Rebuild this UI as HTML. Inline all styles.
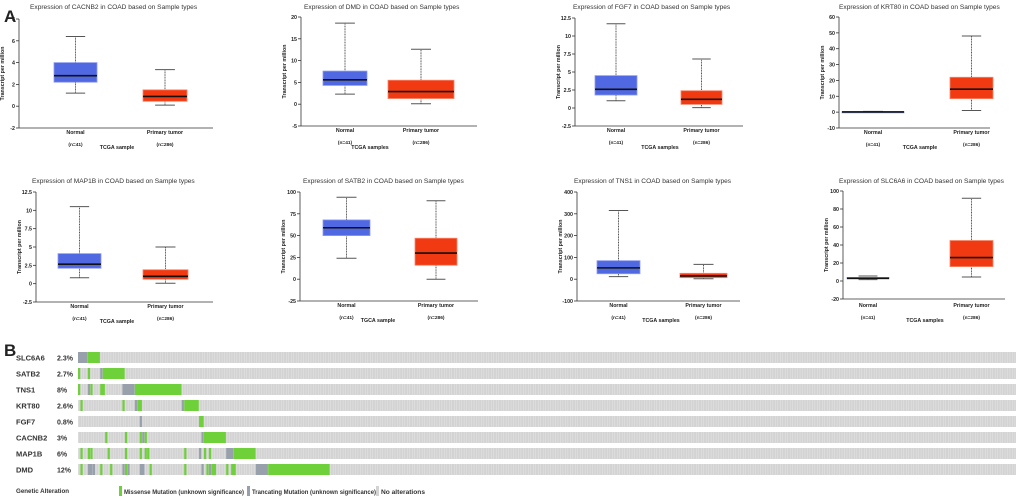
<!DOCTYPE html>
<html><head><meta charset="utf-8"><style>
body{margin:0;background:#fff;width:1020px;height:501px;overflow:hidden;font-family:"Liberation Sans",sans-serif}
svg{position:absolute;left:0;top:0}
</style></head><body>
<svg id="fig" width="1020" height="501" viewBox="0 0 1020 501"></svg>
<script>
// ---- chart data ----
const genes = ["CACNB2","DMD","FGF7","KRT80","MAP1B","SATB2","TNS1","SLC6A6"];
// [lower whisker, q1, median, q3, upper whisker]
const normalCACNB2 = [1.2,2.2,2.8,4.0,6.4];
const tumorCACNB2  = [0.1,0.45,0.9,1.5,3.35];
const normalDMD = [2.3,4.3,5.6,7.6,18.6];
const tumorDMD  = [0.1,1.3,2.9,5.5,12.6];
const normalFGF7 = [1.0,1.8,2.6,4.5,11.7];
const tumorFGF7  = [0.05,0.5,1.2,2.4,6.8];
const normalKRT80 = [0,0,0.1,0.3,0.5];
const tumorKRT80  = [1,8.5,14.5,22,48];
const normalMAP1B = [0.8,2.1,2.65,4.1,10.5];
const tumorMAP1B  = [0.05,0.6,1.0,1.9,5.0];
const normalSATB2 = [24,50,59,68,94];
const tumorSATB2  = [0,16,30,47,90];
const normalTNS1 = [12,25,52,85,315];
const tumorTNS1  = [2,7,15,27,68];
const normalSLC6A6 = [1.5,2.5,3,4,5.5];
const tumorSLC6A6  = [4.5,16,26,45,92];
const ticksCACNB2 = [-2,0,2,4,6,8];
const ticksDMD = [-5,0,5,10,15,20];
const ticksFGF7 = [-2.5,0,2.5,5,7.5,10,12.5];
const ticksKRT80 = [-10,0,10,20,30,40,50,60];
const ticksMAP1B = [-2.5,0,2.5,5,7.5,10,12.5];
const ticksSATB2 = [-25,0,25,50,75,100];
const ticksTNS1 = [-100,0,100,200,300,400];
const ticksSLC6A6 = [-20,0,20,40,60,80,100];
const xTitles = ["TCGA sample","TCGA samples","TCGA samples","TCGA sample","TCGA sample","TGCA sample","TCGA samples","TCGA samples"];
// oncoprint
const oncoGenes = ["SLC6A6","SATB2","TNS1","KRT80","FGF7","CACNB2","MAP1B","DMD"];
const oncoPct = ["2.3%","2.7%","8%","2.6%","0.8%","3%","6%","12%"];
// alterations as [sample start index, sample count, type] (m=missense,t=truncating)
const altSLC6A6 = [[0,4,"t"],[4,5,"m"]];
const altSATB2 = [[0,1,"m"],[4,1,"m"],[9,1,"t"],[10,9,"m"]];
const altTNS1 = [[0,1,"m"],[4,1,"t"],[5,1,"m"],[9,2,"m"],[18,5,"t"],[23,19,"m"]];
const altKRT80 = [[1,1,"m"],[18,1,"m"],[23,1,"t"],[24,2,"m"],[42,1,"t"],[43,6,"m"]];
const altFGF7 = [[25,1,"t"],[49,2,"m"]];
const altCACNB2 = [[11,1,"m"],[19,1,"m"],[25,1,"m"],[26,1,"t"],[27,1,"m"],[50,1,"t"],[51,9,"m"]];
const altMAP1B = [[1,1,"m"],[4,1,"m"],[5,1,"m"],[12,1,"m"],[19,1,"m"],[25,1,"m"],[27,1,"m"],[28,1,"m"],[43,1,"m"],[49,1,"t"],[51,1,"m"],[53,1,"m"],[60,3,"t"],[63,9,"m"]];
const altDMD = [[1,1,"m"],[4,2,"t"],[6,1,"t"],[9,1,"m"],[13,1,"m"],[18,1,"t"],[19,1,"m"],[20,1,"t"],[25,2,"t"],[29,1,"m"],[43,1,"m"],[50,1,"t"],[52,1,"m"],[53,1,"t"],[54,2,"m"],[60,1,"m"],[62,2,"m"],[72,5,"t"],[77,25,"m"]];

// ---- layout config ----
const panels = [
 {ax:19, top:19, bot:128, right:213, nb:[54,97], tb:[143,187], tx:30, ty:9, lblY:134, nY:143, ttY:149, ttX:117, normal:normalCACNB2, tumor:tumorCACNB2, ticks:ticksCACNB2},
 {ax:301,top:17, bot:126, right:477, nb:[323,367],tb:[388,454],tx:304,ty:9, lblY:132, nY:141, ttY:149, ttX:370, normal:normalDMD, tumor:tumorDMD, ticks:ticksDMD},
 {ax:575,top:18, bot:126, right:743, nb:[595,637],tb:[681,722],tx:573,ty:9, lblY:132, nY:141, ttY:149, ttX:660, normal:normalFGF7, tumor:tumorFGF7, ticks:ticksFGF7},
 {ax:839,top:17, bot:128, right:990, nb:[842,904],tb:[950,993],tx:839,ty:9, lblY:134, nY:143, ttY:149, ttX:920, normal:normalKRT80, tumor:tumorKRT80, ticks:ticksKRT80},
 {ax:36, top:192,bot:302, right:213, nb:[58,101], tb:[143,188],tx:32, ty:183,lblY:308, nY:317, ttY:323, ttX:117, normal:normalMAP1B, tumor:tumorMAP1B, ticks:ticksMAP1B},
 {ax:300,top:192,bot:301, right:478, nb:[323,370],tb:[415,457],tx:303,ty:183,lblY:307, nY:316, ttY:322, ttX:378, normal:normalSATB2, tumor:tumorSATB2, ticks:ticksSATB2},
 {ax:577,top:192,bot:301, right:740, nb:[597,640],tb:[680,727],tx:574,ty:183,lblY:307, nY:316, ttY:322, ttX:661, normal:normalTNS1, tumor:tumorTNS1, ticks:ticksTNS1},
 {ax:843,top:191,bot:299, right:1005,nb:[847,889],tb:[950,993],tx:839,ty:183,lblY:307, nY:316, ttY:322, ttX:925, normal:normalSLC6A6, tumor:tumorSLC6A6, ticks:ticksSLC6A6}
];
const NS="http://www.w3.org/2000/svg";
const svg=document.getElementById('fig');
function mk(tag,attrs,parent){const e=document.createElementNS(NS,tag);for(const k in attrs)e.setAttribute(k,attrs[k]);(parent||svg).appendChild(e);return e;}
function txt(x,y,s,size,weight,anchor,parent,fill){const t=mk('text',{x:x,y:y,'font-size':size,'font-weight':weight||'normal','text-anchor':anchor||'start',fill:fill||'#222'},parent);t.textContent=s;return t;}

const la=txt(4,22,"A",17,'bold');



panels.forEach((p,i)=>{
  const g=mk('g',{});
  
  
  const lo=p.ticks[0],hi=p.ticks[p.ticks.length-1];
  const y=v=>p.bot-(v-lo)/(hi-lo)*(p.bot-p.top);
  const t=txt(p.tx,p.ty,"Expression of "+genes[i]+" in COAD based on Sample types",6.6,'normal','start',g,'#333');
  
  
  const ya=mk('line',{x1:p.ax,y1:p.top,x2:p.ax,y2:p.bot,stroke:'#333','stroke-width':0.8},g);
  
  
  const xa=mk('line',{x1:p.ax,y1:p.bot,x2:p.right,y2:p.bot,stroke:'#333','stroke-width':0.8},g);
  
  
  p.ticks.forEach(v=>{
    mk('line',{x1:p.ax-3,y1:y(v),x2:p.ax,y2:y(v),stroke:'#333','stroke-width':0.8},g);
    const tl=txt(p.ax-4,y(v)+2,String(v),5.3,'bold','end',g);
    
    
  });
  const yt=txt(0,0,"Transcript per million",5.3,'bold','middle',g);
  yt.setAttribute('transform',`translate(${p.ax-15},${(p.top+p.bot)/2}) rotate(-90)`);
  
  
  [[p.normal,p.nb,'#5068e2','#8f9cf0','Normal','(n=41)'],[p.tumor,p.tb,'#f23a12','#f7866a','Primary tumor','(n=286)']].forEach(([s,b,col,edge,lab,n])=>{
    const cx=(b[0]+b[1])/2, cap=Math.min(20,(b[1]-b[0])*0.45);
    const bx=mk('g',{},g);
    
    
    mk('line',{x1:cx,y1:y(s[0]),x2:cx,y2:y(s[4]),stroke:'#555','stroke-width':1,'stroke-dasharray':'1,0.6'},bx);
    mk('line',{x1:cx-cap/2,y1:y(s[0]),x2:cx+cap/2,y2:y(s[0]),stroke:'#555','stroke-width':1},bx);
    mk('line',{x1:cx-cap/2,y1:y(s[4]),x2:cx+cap/2,y2:y(s[4]),stroke:'#555','stroke-width':1},bx);
    const h=Math.max(1.2,y(s[1])-y(s[3]));
    mk('rect',{x:b[0],y:y(s[3]),width:b[1]-b[0],height:h,fill:col,stroke:edge,'stroke-width':0.8},bx);
    mk('line',{x1:b[0],y1:y(s[2]),x2:b[1],y2:y(s[2]),stroke:'#111','stroke-width':1.6},bx);
    const l1=txt(cx,p.lblY,lab,5.3,'bold','middle',g);
    
    
    const l2=txt(cx,p.nY+3,n,4.8,'bold','middle',g);
    
    
  });
  const xt=txt(p.ttX,p.ttY,xTitles[i],5.3,'bold','middle',g);
  
  
});

// ---- Panel B: oncoprint ----
const lb=txt(4,356,"B",17,'bold');


const defs=mk('defs',{});
const pat=mk('pattern',{id:'stripe',width:2.47,height:11,patternUnits:'userSpaceOnUse'},defs);
mk('rect',{x:0,y:0,width:2.47,height:11,fill:'#d3d3d3'},pat);
mk('rect',{x:2.0,y:0,width:0.47,height:11,fill:'#e6e6e6'},pat);
const alts=[altSLC6A6,altSATB2,altTNS1,altKRT80,altFGF7,altCACNB2,altMAP1B,altDMD];
const ox=78, ow=938, sw=2.47;
oncoGenes.forEach((gname,i)=>{
  const ty=352+16*i;
  const row=mk('g',{});
  
  
  const gl=txt(16,ty+8.5,gname,7.5,'bold','start',row,'#333');
  
  
  const pl=txt(57,ty+8.5,oncoPct[i],7,'bold','start',row,'#333');
  
  
  mk('rect',{x:ox,y:ty,width:ow,height:11,fill:'url(#stripe)'},row);
  alts[i].forEach(a=>{
    const r=mk('rect',{x:ox+a[0]*sw,y:ty,width:a[1]*sw-0.3,height:11,fill:a[2]==='m'?'#6fd13a':'#98a0ac'},row);
    
    
  });
});
const leg=mk('g',{});


const lt=txt(16,493,"Genetic Alteration",6.2,'bold','start',leg,'#333');


[[119,'#6fd13a',"Missense Mutation (unknown significance)",120],[247,'#98a0ac',"Trancating Mutation (unknown significance)",124],[376,'#d3d3d3',"No alterations",44]].forEach(([x,c,s,w])=>{
  mk('rect',{x:x,y:486,width:3,height:10,fill:c},leg);
  const e=txt(x+5,494,s,6.2,'bold','start',leg,'#333');
  e.setAttribute('textLength',w);
  e.setAttribute('lengthAdjust','spacingAndGlyphs');
  
  
});
</script>
</body></html>
